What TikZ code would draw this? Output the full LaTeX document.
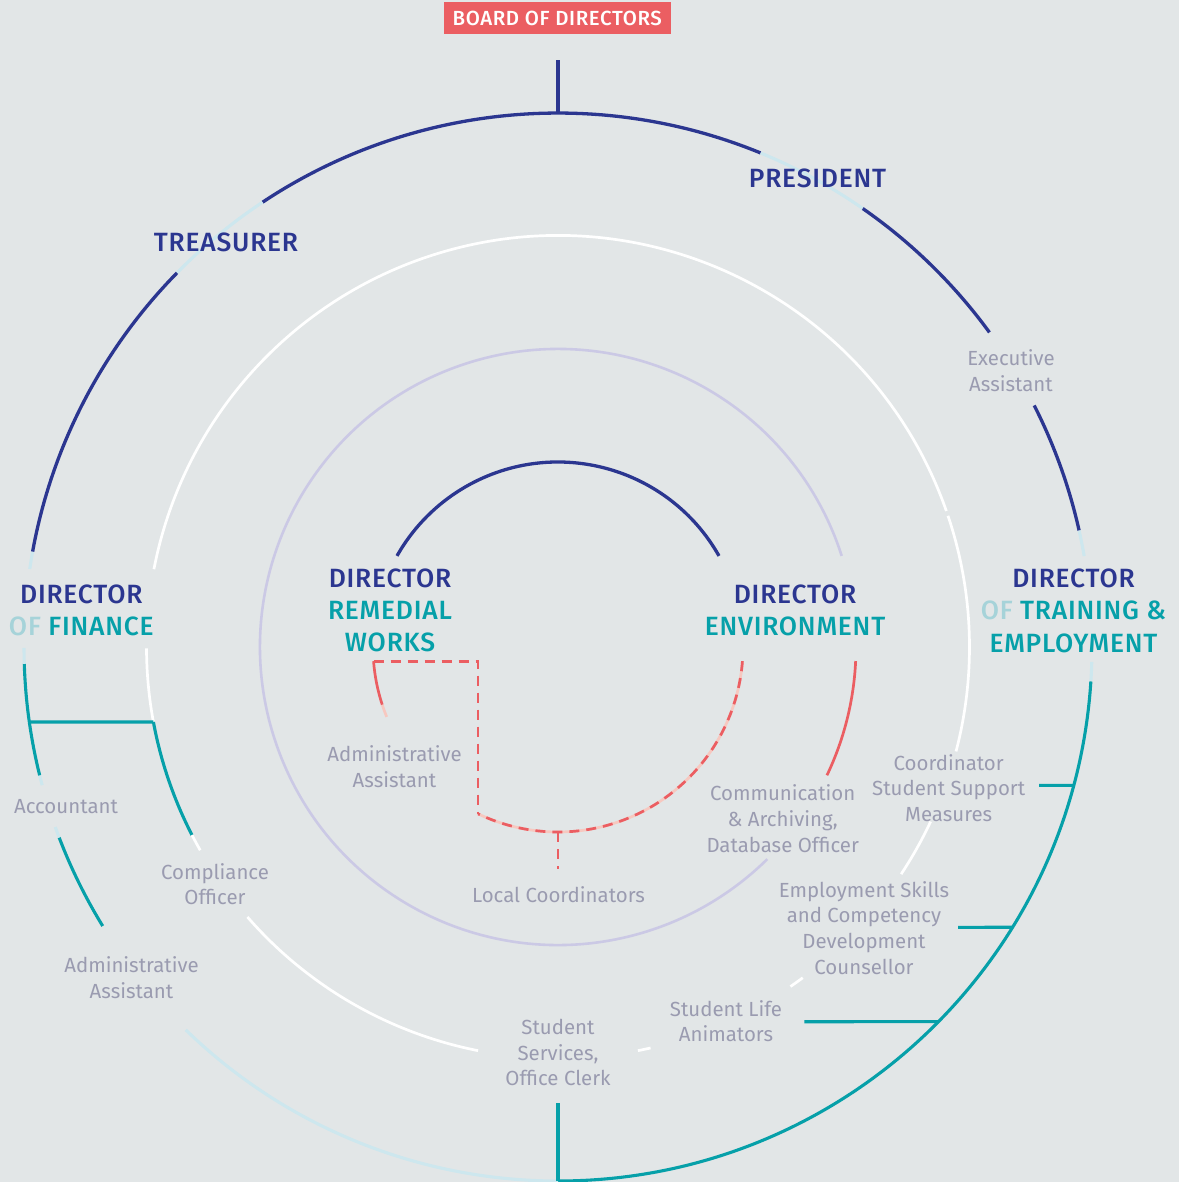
\documentclass[tikz,border=0pt]{standalone}
\usepackage{fontspec}
\setmainfont{Fira Sans}
\newfontfamily\headfont{Fira Sans Medium}[LetterSpace=3]
\definecolor{bgcol}{HTML}{E2E6E7}
\definecolor{navy}{HTML}{2B3690}
\definecolor{tealc}{HTML}{06A0A9}
\definecolor{ofteal}{HTML}{A6D3D9}
\definecolor{paleblue}{HTML}{CDE7EE}
\definecolor{redc}{HTML}{EB5E62}
\definecolor{pinkc}{HTML}{F7C8C0}
\definecolor{lavender}{HTML}{CBC9E5}
\definecolor{graytxt}{HTML}{9A9BB0}
\begin{document}
\begin{tikzpicture}[x=1bp,y=-1bp,
  navyarc/.style={draw=navy,line width=3.3bp},
  tealarc/.style={draw=tealc,line width=3.1bp},
  palearc/.style={draw=paleblue,line width=3.1bp},
  whitearc/.style={draw=white,line width=2.7bp},
  lavarc/.style={draw=lavender,line width=2.6bp},
  redarc/.style={draw=redc,line width=2.7bp},
  pinkarc/.style={draw=pinkc,line width=2.7bp},
  reddash/.style={draw=redc,line width=2.7bp,dash pattern=on 10bp off 7bp},
  headtxt/.style={font=\headfont\fontsize{26.5}{32.2}\selectfont,text=navy,align=center,inner sep=0pt},
  roletxt/.style={font=\fontsize{20.5}{25.7}\selectfont,text=graytxt,align=center,inner sep=0pt},
  boardbox/.style={fill=redc,text=white,font=\headfont\fontsize{20.5}{24}\selectfont,minimum width=227bp,minimum height=32.6bp,inner sep=0pt}
]
\fill[bgcol] (0,0) rectangle (1179,1182);
\useasboundingbox (0,0) rectangle (1179,1182);

% rings, drawn about the common centre with y pointing up
\begin{scope}[shift={(558,647)},yscale=-1]
  % outer ring (r = 534)
  \draw[navyarc]  (67.7:534) arc[start angle=67.7,end angle=123.6,radius=534];
  \draw[palearc]  (55.2:534) arc[start angle=55.2,end angle=67.7,radius=534];
  \draw[navyarc]  (36.1:534) arc[start angle=36.1,end angle=55.2,radius=534];
  \draw[navyarc]  (12.6:534) arc[start angle=12.6,end angle=26.9,radius=534];
  \draw[palearc]  (9.8:534) arc[start angle=9.8,end angle=12.6,radius=534];
  \draw[palearc]  (-3.7:534) arc[start angle=-3.7,end angle=-1.6,radius=534];
  \draw[tealarc]  (-90:534) arc[start angle=-90,end angle=-3.7,radius=534];
  \draw[palearc]  (225.8:534) arc[start angle=225.8,end angle=270,radius=534];
  \draw[tealarc]  (200.9:534) arc[start angle=200.9,end angle=211.5,radius=534];
  \draw[palearc]  (199.7:534) arc[start angle=199.7,end angle=200.9,radius=534];
  \draw[palearc]  (193.9:534) arc[start angle=193.9,end angle=195,radius=534];
  \draw[tealarc]  (181.8:534) arc[start angle=181.8,end angle=193.9,radius=534];
  \draw[palearc]  (180.1:534) arc[start angle=180.1,end angle=181.8,radius=534];
  \draw[palearc]  (169.7:534) arc[start angle=169.7,end angle=171.6,radius=534];
  \draw[navyarc]  (135.5:534) arc[start angle=135.5,end angle=169.7,radius=534];
  \draw[palearc]  (123.6:534) arc[start angle=123.6,end angle=135.5,radius=534];

  % white ring (r = 411.5)
  \draw[whitearc] (19.3:411.5) arc[start angle=19.3,end angle=169.1,radius=411.5];
  \draw[whitearc] (-14.7:411.5) arc[start angle=-14.7,end angle=18.6,radius=411.5];
  \draw[whitearc] (180.2:411.5) arc[start angle=180.2,end angle=190.5,radius=411.5];
  \draw[tealarc]  (190.5:411.5) arc[start angle=190.5,end angle=207.2,radius=411.5];
  \draw[whitearc] (207.2:411.5) arc[start angle=207.2,end angle=209.6,radius=411.5];
  \draw[whitearc] (221:411.5) arc[start angle=221,end angle=258.8,radius=411.5];
  \draw[whitearc] (281.2:411.5) arc[start angle=281.2,end angle=283,radius=411.5];
  \draw[whitearc] (304.4:411.5) arc[start angle=304.4,end angle=306.5,radius=411.5];
  \draw[whitearc] (326.5:411.5) arc[start angle=326.5,end angle=334.9,radius=411.5];

  % lavender ring (r = 298)
  \draw[lavarc] (17.8:298) arc[start angle=17.8,end angle=314.6,radius=298];
  \draw[redarc] (-25.5:298) arc[start angle=-25.5,end angle=-2.7,radius=298];

  % inner ring (r = 185)
  \draw[navyarc] (29.5:185) arc[start angle=29.5,end angle=150.5,radius=185];
  \draw[redarc]  (184.4:185) arc[start angle=184.4,end angle=198.2,radius=185];
  \draw[pinkarc] (198.2:185) arc[start angle=198.2,end angle=202.2,radius=185];
  \draw[pinkarc] (-4.4:185) arc[start angle=-4.4,end angle=-115.6,radius=185];
  \draw[reddash] (-4.4:185) arc[start angle=-4.4,end angle=-115.6,radius=185];

  % anchor points on the rings
  \coordinate (topO) at (90:534);
  \coordinate (botO) at (-90:534);
  \coordinate (finO) at (188.07:534);
  \coordinate (finW) at (190.5:411.5);
  \coordinate (cssO) at (-15.01:534);
  \coordinate (escO) at (-31.66:534);
  \coordinate (slaO) at (-44.56:534);
  \coordinate (rwA) at (184.4:185);
  \coordinate (rwB) at (244.4:185);
  \coordinate (lcA) at (-90:185);
\end{scope}

% free ends of connectors
\coordinate (boardEnd) at (558,60);
\coordinate (cssEnd) at (1039,785.3);
\coordinate (escEnd) at (958,927.3);
\coordinate (slaEnd) at (804.3,1021.7);
\coordinate (ssoEnd) at (558,1103);
\coordinate (lcEnd) at (558,869);

% connectors
\draw[navyarc] (boardEnd) -- (topO);
\draw[tealarc] (finO) -- (finW);
\draw[tealarc] (cssEnd) -- (cssO);
\draw[tealarc] (escEnd) -- (escO);
\draw[tealarc] (slaEnd) -- (slaO);
\draw[tealarc] (ssoEnd) -- (botO);
\draw[reddash] (rwA) -| (rwB);
\draw[reddash] (lcA) -- (lcEnd);

% board
\node[boardbox] (board) at (557.3,18) {BOARD OF DIRECTORS};

% heads
\node[headtxt] (pres) at (817.5,178.5) {PRESIDENT};
\node[headtxt] (treas) at (226,242.5) {TREASURER};
\node[headtxt] (dfin) at (81.3,610.5) {DIRECTOR\\\textcolor{ofteal}{OF} \textcolor{tealc}{FINANCE}};
\node[headtxt] (drem) at (390,610.2) {DIRECTOR\\\textcolor{tealc}{REMEDIAL}\\\textcolor{tealc}{WORKS}};
\node[headtxt] (denv) at (795,610.5) {DIRECTOR\\\textcolor{tealc}{ENVIRONMENT}};
\node[headtxt] (dtrn) at (1073.5,610.8) {DIRECTOR\\\textcolor{ofteal}{OF} \textcolor{tealc}{TRAINING \&}\\\textcolor{tealc}{EMPLOYMENT}};

% roles
\node[roletxt] (exec) at (1011,370.7) {Executive\\Assistant};
\node[roletxt] (remadm) at (394.5,766.8) {Administrative\\Assistant};
\node[roletxt] (comm) at (782.7,818.7) {Communication\\\& Archiving,\\Database Officer};
\node[roletxt] (coord) at (948.7,787.8) {Coordinator\\Student Support\\Measures};
\node[roletxt] (emps) at (864,927.8) {Employment Skills\\and Competency\\Development\\Counsellor};
\node[roletxt] (slife) at (726,1021.2) {Student Life\\Animators};
\node[roletxt] (sserv) at (558,1052.8) {Student\\Services,\\Office Clerk};
\node[roletxt] (local) at (558.5,895) {Local Coordinators};
\node[roletxt] (acct) at (66,806.5) {Accountant};
\node[roletxt] (compl) at (215,884) {Compliance\\Officer};
\node[roletxt] (finadm) at (131.5,977.8) {Administrative\\Assistant};
\end{tikzpicture}
\end{document}
